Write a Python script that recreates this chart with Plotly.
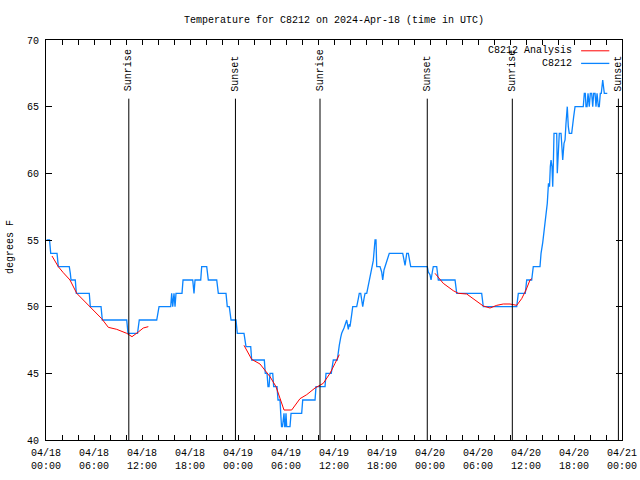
import pandas as pd
import plotly.graph_objects as go

# ---------------- data ----------------
START = "2024-04-18 00:00"
TITLE = "Temperature for C8212 on 2024-Apr-18 (time in UTC)"

# observed C8212 temperature (hours since 04/18 00:00 UTC, deg F)
OBS_HOURS = [0.08, 0.44, 0.59, 1.38, 1.54, 2.91, 3.04, 3.13, 3.66, 3.79, 5.41, 5.54, 6.88, 7.04,
             10.09, 10.25, 11.44, 11.66, 13.84, 14.13, 15.59, 15.71, 15.84, 16.0, 16.13, 16.25,
             17.0, 17.13, 18.34, 18.5, 18.63, 19.34, 19.46, 20.09, 20.29, 21.34, 21.54, 22.5,
             22.66, 22.91, 23.13, 23.75, 23.91, 24.75, 25.0, 25.59, 25.71, 27.29, 27.41, 27.63,
             27.75, 27.88, 28.0, 28.34, 28.46, 28.88, 29.0, 29.25, 29.34, 29.44, 29.56, 29.66,
             29.75, 29.84, 29.91, 30.0, 30.09, 30.5, 30.63, 31.96, 32.09, 33.63, 33.75, 34.88,
             35.0, 35.66, 35.91, 36.41, 36.54, 36.66, 36.84, 36.96, 37.25, 37.38, 37.59, 37.79,
             37.91, 38.0, 38.09, 38.21, 38.34, 38.84, 39.04, 39.16, 39.34, 39.46, 39.59, 39.75,
             39.88, 40.09, 40.29, 40.5, 40.59, 40.71, 40.84, 40.91, 41.13, 41.25, 41.34, 41.75,
             41.96, 42.09, 42.25, 42.38, 42.59, 42.79, 42.91, 44.59, 44.75, 44.88, 45.0, 45.09,
             45.29, 45.41, 45.59, 47.66, 47.79, 48.0, 48.13, 48.29, 48.41, 48.84, 49.04, 51.13,
             51.34, 54.46, 54.66, 58.84, 59.04, 59.91, 60.09, 60.71, 60.84, 60.91, 61.75, 61.88,
             62.09, 62.29, 62.46, 62.66, 62.81, 62.94, 63.04, 63.13, 63.25, 63.34, 63.41, 63.5,
             63.84, 63.91, 64.04, 64.16, 64.38, 64.5, 64.59, 64.75, 64.88, 65.0, 65.16, 65.29,
             65.41, 65.71, 65.84, 65.96, 66.13, 67.16, 67.29, 67.41, 67.5, 67.63, 67.75, 67.91,
             68.04, 68.21, 68.34, 68.46, 68.63, 68.75, 68.88, 69.04, 69.16, 69.29, 69.41, 69.59,
             69.79, 70.16]
OBS_TEMPS = [55, 55, 54, 54, 53, 53, 52.5, 52, 52, 51, 51, 50, 50, 49,
             49, 48, 48, 49, 49, 50, 50, 51, 50, 51, 50, 51,
             51, 52, 52, 51, 52, 52, 53, 53, 52, 52, 51, 51,
             50, 50, 49, 49, 48, 48, 47, 47, 46, 46, 45, 45,
             44, 44, 45, 45, 44, 44, 43, 43, 42, 41, 41, 42,
             42, 41, 41, 42, 41, 41, 42, 42, 43, 43, 44, 44,
             45, 45, 46, 46, 46.75, 47.1, 47.7, 48, 48.4, 48.7, 49, 48.3,
             48.7, 48.5, 49.1, 49.4, 50, 50, 50.6, 51, 51, 50.4, 50, 50.6,
             51, 51, 51.6, 52.1, 52.6, 53, 53.4, 53.45, 55, 55, 53, 53,
             52.6, 52, 52.75, 53, 53.25, 53.6, 54, 54, 53.6, 53.1, 53.6, 54,
             54, 53.6, 53, 53, 52.6, 52.4, 52, 52.6, 53, 53, 52, 52,
             51, 51, 50, 50, 51, 51, 52, 52, 52.5, 53, 53, 54,
             54.8, 55.75, 56.5, 57.75, 59.25, 59, 60.5, 61, 60.5, 59, 60.5, 63,
             63, 60, 61.5, 63, 63, 61.5, 61, 62.25, 62.5, 63.75, 65, 63.5,
             63, 63, 64, 64.25, 65, 65, 66, 66, 65, 65, 66, 65,
             66, 66, 65, 66, 66, 65, 66, 65, 65, 66, 66, 67,
             66, 66]

# analysis curve, three separate runs (hours since start, deg F)
ANA_HOURS_1 = [0.75, 1.54, 2.16, 3.0, 3.84, 5.5, 6.96, 7.79, 8.84, 10.09, 10.75, 11.54, 12.16, 12.79]
ANA_TEMPS_1 = [53.8, 53.0, 52.55, 52.0, 51.0, 50.0, 49.1, 48.45, 48.3, 48.0, 47.75, 48.1, 48.4, 48.5]
ANA_HOURS_2 = [24.75, 25.71, 26.75, 27.38, 28.0, 28.75, 29.25, 29.75, 30.71, 31.75, 32.59, 33.63,
               34.66, 35.5, 36.13, 36.66]
ANA_TEMPS_2 = [47.1, 46.05, 45.7, 45.25, 44.75, 44.0, 43.1, 42.25, 42.25, 43.1, 43.4, 43.9,
               44.25, 45.0, 45.75, 46.4]
ANA_HOURS_3 = [48.63, 49.66, 50.91, 51.54, 52.59, 53.63, 54.66, 55.5, 56.34, 57.16, 58.0, 58.84,
               59.46, 60.0, 60.5, 60.71]
ANA_TEMPS_3 = [52.5, 51.75, 51.2, 51.0, 50.95, 50.5, 50.05, 49.9, 50.1, 50.2, 50.2, 50.1,
               50.6, 51.25, 52.0, 52.1]

SUN_LABELS = ["Sunrise", "Sunset", "Sunrise", "Sunset", "Sunrise", "Sunset"]
SUN_HOURS = [10.35, 23.68, 34.25, 47.66, 58.29, 71.55]

Y_TICKS = [40, 45, 50, 55, 60, 65, 70]
X_TICK_HOURS = list(range(0, 73, 2))
SERIES_NAMES = ["C8212 Analysis", "C8212"]

# ---------------- build ----------------
base = pd.Timestamp(START)
def to_time(hours):
    return [base + pd.Timedelta(hours=h) for h in hours]

ana_x, ana_y = [], []
for hh, tt in [(ANA_HOURS_1, ANA_TEMPS_1), (ANA_HOURS_2, ANA_TEMPS_2), (ANA_HOURS_3, ANA_TEMPS_3)]:
    if ana_x:
        ana_x.append(None)
        ana_y.append(None)
    ana_x += to_time(hh)
    ana_y += tt

RED = "#ff0000"
BLUE = "#0a84ff"
FONT = dict(family="Liberation Mono, DejaVu Sans Mono, monospace", size=10, color="#000000")

fig = go.Figure()
fig.add_trace(go.Scatter(x=to_time(OBS_HOURS), y=OBS_TEMPS, mode="lines",
                         line=dict(color=BLUE, width=1.3), name=SERIES_NAMES[1]))
fig.add_trace(go.Scatter(x=ana_x, y=ana_y, mode="lines", connectgaps=False,
                         line=dict(color=RED, width=1), name=SERIES_NAMES[0]))

shapes = []
annotations = []
for lab, h in zip(SUN_LABELS, SUN_HOURS):
    t = base + pd.Timedelta(hours=h)
    shapes.append(dict(type="line", xref="x", yref="y", x0=t, x1=t, y0=40, y1=65.6,
                       line=dict(color="black", width=1)))
    annotations.append(dict(x=t, y=66.0, xref="x", yref="y", text=lab, textangle=-90,
                            showarrow=False, xanchor="center", yanchor="bottom", font=FONT))

# gnuplot-style key (text right-aligned, line sample on the right)
key_colors = [RED, BLUE]
for i, (name, col) in enumerate(zip(SERIES_NAMES, key_colors)):
    yp = 0.973 - i * 0.0315
    annotations.append(dict(x=0.917, y=yp, xref="paper", yref="paper", text=name,
                            showarrow=False, xanchor="right", yanchor="middle", font=FONT))
    shapes.append(dict(type="line", xref="paper", yref="paper", x0=0.929, x1=0.978,
                       y0=yp, y1=yp, line=dict(color=col, width=1.3 if i else 1)))

annotations.append(dict(x=-0.0625, y=0.4825, xref="paper", yref="paper", text="degrees F",
                        textangle=-90, showarrow=False, xanchor="center", yanchor="middle",
                        font=FONT))

tick_times = to_time(X_TICK_HOURS)
tick_text = []
for h, t in zip(X_TICK_HOURS, tick_times):
    tick_text.append(t.strftime("%m/%d<br>%H:%M") if h % 6 == 0 else "")

fig.update_layout(
    width=640, height=480,
    margin=dict(l=46, r=18, t=40, b=40, autoexpand=False),
    paper_bgcolor="white", plot_bgcolor="white",
    showlegend=False,
    font=FONT,
    title=dict(text=TITLE, x=0.5, xref="paper", y=1 - 19 / 480, yanchor="middle",
               font=FONT, automargin=False),
    shapes=shapes, annotations=annotations,
    xaxis=dict(range=[base, base + pd.Timedelta(hours=72)], tickvals=tick_times,
               ticktext=tick_text, ticks="inside", ticklen=5, tickcolor="black",
               showline=True, linecolor="black", linewidth=1, mirror="ticks",
               showgrid=False, zeroline=False, tickfont=FONT, tickangle=0,
               ticklabelstandoff=3, automargin=False),
    yaxis=dict(range=[40, 70], tickvals=Y_TICKS, ticks="inside", ticklen=6,
               tickcolor="black", showline=True, linecolor="black", linewidth=1,
               mirror="ticks", showgrid=False, zeroline=False, tickfont=FONT,
               ticklabelstandoff=4, automargin=False),
)

fig.write_html("out.html", config={"displayModeBar": False},
               post_script="document.body.style.margin='0';document.body.style.overflow='hidden';")
